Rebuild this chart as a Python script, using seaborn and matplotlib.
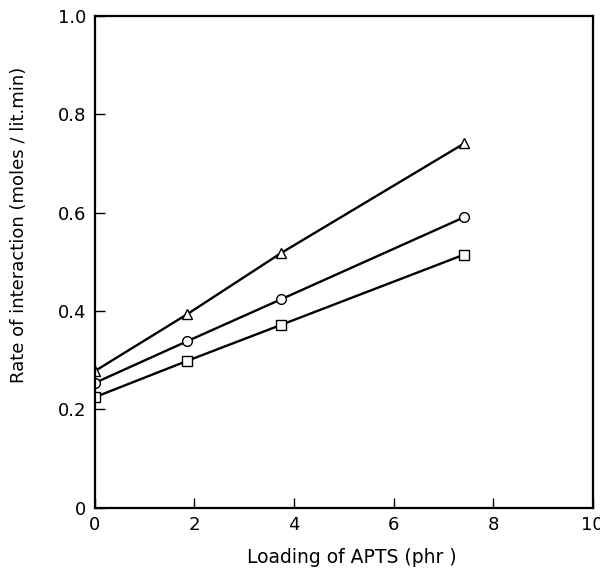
import numpy as np
import pandas as pd
import matplotlib
matplotlib.use("Agg")
import matplotlib.pyplot as plt
import seaborn as sns

# loading of APTS (phr)
loading = [0, 1.86, 3.74, 7.42]

# rate of interaction (moles/lit.min), one list per series
rate_triangle = [0.278, 0.394, 0.518, 0.741]
rate_circle = [0.254, 0.339, 0.424, 0.591]
rate_square = [0.225, 0.299, 0.372, 0.515]

x_ticks = [0, 2, 4, 6, 8, 10]
y_ticks = [0, 0.2, 0.4, 0.6, 0.8, 1.0]
y_tick_labels = ["0", "0.2", "0.4", "0.6", "0.8", "1.0"]

sns.set_style("ticks")
plt.rcParams["font.family"] = ["DejaVu Sans"]
plt.rcParams["text.color"] = "black"
plt.rcParams["axes.labelcolor"] = "black"

fig = plt.figure(figsize=(6, 5.7), dpi=100)
ax = fig.add_axes([0.158, 0.109, 0.83, 0.863])

series = [
    (rate_triangle, "^"),
    (rate_circle, "o"),
    (rate_square, "s"),
]
for values, mk in series:
    df = pd.DataFrame({"loading": loading, "rate": values})
    sns.lineplot(data=df, x="loading", y="rate", ax=ax, color="black",
                 linewidth=1.7, marker=mk, markersize=7,
                 markerfacecolor="white", markeredgecolor="black",
                 markeredgewidth=1.0)

ax.set_xlim(0, 10)
ax.set_ylim(0, 1.0)
ax.set_xticks(x_ticks)
ax.set_xticklabels([str(t) for t in x_ticks])
ax.set_yticks(y_ticks)
ax.set_yticklabels(y_tick_labels)
ax.tick_params(direction="in", length=7.5, width=1.0, labelsize=13,
               colors="black", pad=6)
for sp in ax.spines.values():
    sp.set_linewidth(1.6)
    sp.set_color("black")

ax.set_xlabel("Loading of APTS (phr )", fontsize=13.5)
ax.set_ylabel("Rate of interaction (moles / lit.min)", fontsize=13)
ax.xaxis.set_label_coords(0.516, -0.081)
ax.yaxis.set_label_coords(-0.135, 0.575)

fig.savefig("out.png", dpi=100)
